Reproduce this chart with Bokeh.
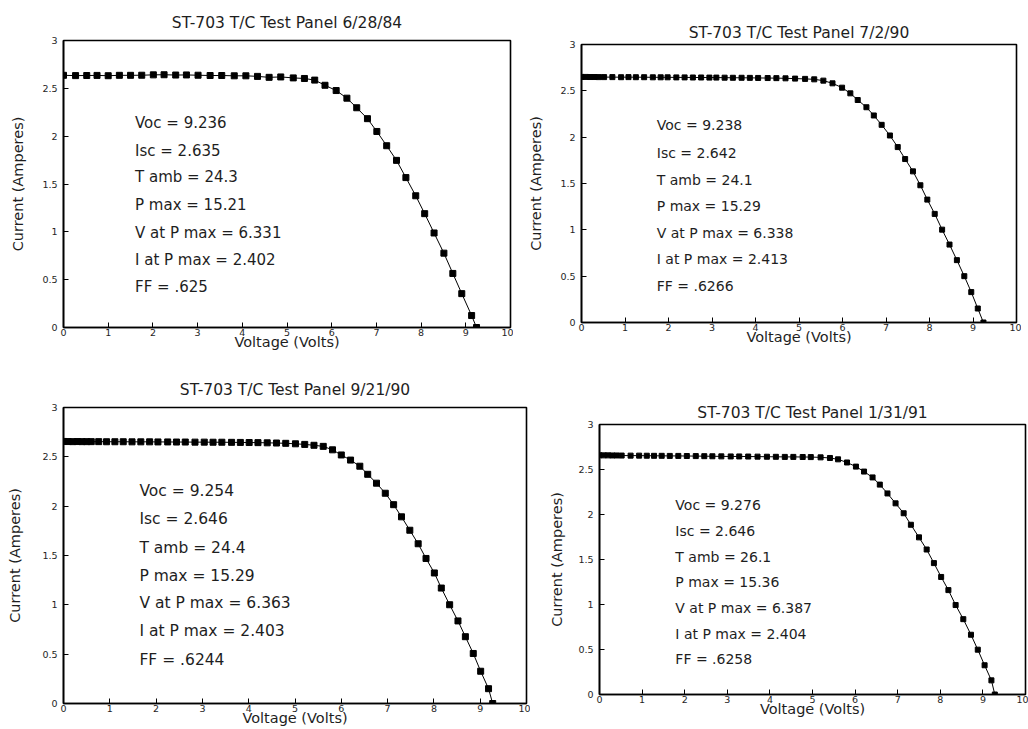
from bokeh.plotting import figure
from bokeh.layouts import column, row
from bokeh.models import Range1d, FixedTicker
from bokeh.core.properties import value
from bokeh.embed import file_html
from bokeh.resources import INLINE

FONT = "DejaVu Sans"

# ---------------- data ----------------
TITLES = ["ST-703 T/C Test Panel 6/28/84", "ST-703 T/C Test Panel 7/2/90",
          "ST-703 T/C Test Panel 9/21/90", "ST-703 T/C Test Panel 1/31/91"]

V1 = [0.0, 0.27, 0.52, 0.75, 1.00, 1.25, 1.50, 1.75, 2.01, 2.25, 2.51, 2.75, 3.01, 3.28,
      3.54, 3.82, 4.08, 4.34, 4.60, 4.86, 5.14, 5.39, 5.62, 5.85, 6.10, 6.34, 6.56, 6.80,
      7.01, 7.23, 7.45, 7.66, 7.88, 8.08, 8.29, 8.51, 8.71, 8.91, 9.13, 9.24]
I1 = [2.636, 2.633, 2.634, 2.635, 2.632, 2.636, 2.636, 2.637, 2.641, 2.642, 2.639, 2.640,
      2.637, 2.634, 2.634, 2.631, 2.631, 2.625, 2.615, 2.619, 2.609, 2.603, 2.586, 2.532,
      2.477, 2.397, 2.297, 2.183, 2.049, 1.900, 1.747, 1.567, 1.377, 1.190, 0.988, 0.777,
      0.565, 0.354, 0.125, 0.0]

V2 = [0.0, 0.1, 0.2, 0.3, 0.4, 0.52, 0.71, 0.91, 1.08, 1.25, 1.44, 1.64, 1.82, 1.98, 2.18,
      2.37, 2.56, 2.75, 2.94, 3.10, 3.29, 3.48, 3.68, 3.87, 4.06, 4.28, 4.48, 4.69, 4.91,
      5.14, 5.35, 5.56, 5.77, 5.99, 6.18, 6.35, 6.55, 6.72, 6.90, 7.09, 7.27, 7.44, 7.62,
      7.79, 7.95, 8.12, 8.29, 8.46, 8.63, 8.80, 8.96, 9.11, 9.24]
I2 = [2.650, 2.650, 2.649, 2.649, 2.648, 2.648, 2.648, 2.647, 2.648, 2.647, 2.647, 2.646,
      2.646, 2.646, 2.645, 2.645, 2.644, 2.644, 2.643, 2.643, 2.642, 2.641, 2.641, 2.640,
      2.639, 2.638, 2.637, 2.635, 2.632, 2.629, 2.624, 2.610, 2.581, 2.534, 2.473, 2.401,
      2.323, 2.234, 2.133, 2.018, 1.893, 1.764, 1.631, 1.481, 1.326, 1.172, 1.002, 0.841,
      0.673, 0.500, 0.328, 0.151, 0.0]

V3 = [0.0, 0.1, 0.2, 0.3, 0.4, 0.5, 0.60, 0.76, 0.93, 1.11, 1.29, 1.48, 1.67, 1.86, 2.04,
      2.25, 2.44, 2.63, 2.84, 3.04, 3.23, 3.42, 3.63, 3.82, 4.01, 4.20, 4.40, 4.60, 4.80,
      5.01, 5.21, 5.41, 5.61, 5.81, 6.00, 6.20, 6.40, 6.57, 6.76, 6.95, 7.13, 7.30, 7.48,
      7.66, 7.83, 8.01, 8.16, 8.34, 8.52, 8.68, 8.85, 9.01, 9.18, 9.27]
I3 = [2.656, 2.655, 2.654, 2.655, 2.654, 2.654, 2.654, 2.654, 2.653, 2.653, 2.653, 2.652,
      2.652, 2.652, 2.651, 2.651, 2.650, 2.650, 2.649, 2.649, 2.648, 2.648, 2.647, 2.646,
      2.645, 2.644, 2.642, 2.640, 2.637, 2.632, 2.626, 2.617, 2.606, 2.571, 2.519, 2.467,
      2.405, 2.323, 2.233, 2.131, 2.015, 1.892, 1.756, 1.619, 1.470, 1.323, 1.170, 1.001,
      0.837, 0.677, 0.507, 0.327, 0.150, 0.0]

V4 = [0.0, 0.1, 0.2, 0.3, 0.4, 0.52, 0.73, 0.93, 1.11, 1.28, 1.46, 1.65, 1.85, 2.05, 2.26,
      2.46, 2.65, 2.86, 3.08, 3.28, 3.49, 3.71, 3.93, 4.14, 4.35, 4.55, 4.77, 4.96, 5.19,
      5.41, 5.60, 5.81, 6.02, 6.21, 6.41, 6.58, 6.76, 6.95, 7.14, 7.31, 7.50, 7.68, 7.85,
      8.02, 8.19, 8.36, 8.54, 8.72, 8.88, 9.04, 9.20, 9.28]
I4 = [2.658, 2.657, 2.657, 2.656, 2.656, 2.655, 2.654, 2.654, 2.653, 2.652, 2.652, 2.651,
      2.651, 2.650, 2.649, 2.648, 2.647, 2.646, 2.645, 2.645, 2.644, 2.643, 2.642, 2.641,
      2.640, 2.640, 2.639, 2.638, 2.635, 2.628, 2.613, 2.578, 2.532, 2.477, 2.412, 2.332,
      2.234, 2.124, 2.014, 1.886, 1.746, 1.611, 1.460, 1.306, 1.160, 0.994, 0.837, 0.664,
      0.498, 0.325, 0.157, 0.0]

STATS1 = ["Voc = 9.236", "Isc = 2.635", "T amb = 24.3", "P max = 15.21",
          "V at P max = 6.331", "I at P max = 2.402", "FF = .625"]
STATS2 = ["Voc = 9.238", "Isc = 2.642", "T amb = 24.1", "P max = 15.29",
          "V at P max = 6.338", "I at P max = 2.413", "FF = .6266"]
STATS3 = ["Voc = 9.254", "Isc = 2.646", "T amb = 24.4", "P max = 15.29",
          "V at P max = 6.363", "I at P max = 2.403", "FF = .6244"]
STATS4 = ["Voc = 9.276", "Isc = 2.646", "T amb = 26.1", "P max = 15.36",
          "V at P max = 6.387", "I at P max = 2.404", "FF = .6258"]

X_TICKS = [0, 1, 2, 3, 4, 5, 6, 7, 8, 9, 10]
Y_TICKS = [0, 0.5, 1, 1.5, 2, 2.5, 3]
Y_TICK_LABELS = ["0", "0.5", "1", "1.5", "2", "2.5", "3"]

for a, b in [(V1, I1), (V2, I2), (V3, I3), (V4, I4)]:
    assert len(a) == len(b)


def panel(title, V, I, stats, w, h, bl, br, bt, bb, tx, ty, fs, ms, ylab_stand,
          title_stand, title_valign):
    p = figure(width=w, height=h, x_range=Range1d(0, 10), y_range=Range1d(0, 3),
               output_backend="svg", toolbar_location=None,
               min_border_left=bl, min_border_right=br, min_border_top=bt,
               min_border_bottom=bb)
    p.frame_align = False
    p.title.text = title
    p.title.align = "center"
    p.title.vertical_align = title_valign
    p.title.text_font = FONT
    p.title.text_font_size = "15.5px"
    p.title.text_font_style = "normal"
    p.title.text_color = "#1e1e1e"
    p.title.standoff = title_stand
    p.xgrid.visible = False
    p.ygrid.visible = False
    p.outline_line_color = "black"
    p.outline_line_width = 1.6
    p.background_fill_color = "white"
    p.border_fill_color = "white"

    for ax in (p.xaxis[0], p.yaxis[0]):
        ax.axis_line_color = "black"
        ax.axis_line_width = 1.6
        ax.major_tick_in = 5
        ax.major_tick_out = 0
        ax.major_tick_line_color = "black"
        ax.minor_tick_line_color = None
        ax.major_label_text_font = FONT
        ax.major_label_text_font_size = "9.5px"
        ax.major_label_text_color = "#1e1e1e"
        ax.axis_label_text_font = FONT
        ax.axis_label_text_font_size = "14.5px"
        ax.axis_label_text_font_style = "normal"
        ax.axis_label_text_color = "#1e1e1e"

    p.xaxis.ticker = FixedTicker(ticks=X_TICKS)
    p.yaxis.ticker = FixedTicker(ticks=Y_TICKS)
    p.xaxis.major_label_overrides = {t: str(t) for t in X_TICKS}
    p.yaxis.major_label_overrides = dict(zip(Y_TICKS, Y_TICK_LABELS))
    p.xaxis.axis_label = "Voltage (Volts)"
    p.yaxis.axis_label = "Current (Amperes)"
    p.xaxis.major_label_standoff = 1
    p.xaxis.axis_label_standoff = -5
    p.yaxis.major_label_standoff = 6
    p.yaxis.axis_label_standoff = ylab_stand

    p.line(V, I, line_color="black", line_width=1)
    p.scatter(V, I, marker="square", size=ms, fill_color="black", line_color="black")

    p.text(x=[tx] * len(stats), y=ty, text=stats, text_font=value(FONT),
           text_font_size=fs, text_color="#1e1e1e", text_baseline="middle",
           text_align="left")
    return p


p1 = panel(TITLES[0], V1, I1, STATS1, 513, 360, 63, 3, 40, 33, 1.6,
           [2.14, 1.85, 1.57, 1.28, 0.99, 0.71, 0.42], "15px", 6, 13, 14, "top")
p2 = panel(TITLES[1], V2, I2, STATS2, 508, 360, 68, 5, 44, 38, 1.73,
           [2.13, 1.83, 1.54, 1.26, 0.97, 0.68, 0.39], "14px", 5, 13, 5, "bottom")
p3 = panel(TITLES[2], V3, I3, STATS3, 530, 369, 63, 4, 47, 26, 1.64,
           [2.155, 1.87, 1.58, 1.29, 1.02, 0.73, 0.44], "15.5px", 6, 16, 13, "top")
p4 = panel(TITLES[3], V4, I4, STATS4, 498, 369, 69, 3, 64, 35, 1.78,
           [2.11, 1.82, 1.53, 1.25, 0.96, 0.67, 0.39], "14px", 5, 10, 6, "bottom")

layout = column(row(p1, p2), row(p3, p4))
open("out.html", "w").write(file_html(layout, INLINE))
